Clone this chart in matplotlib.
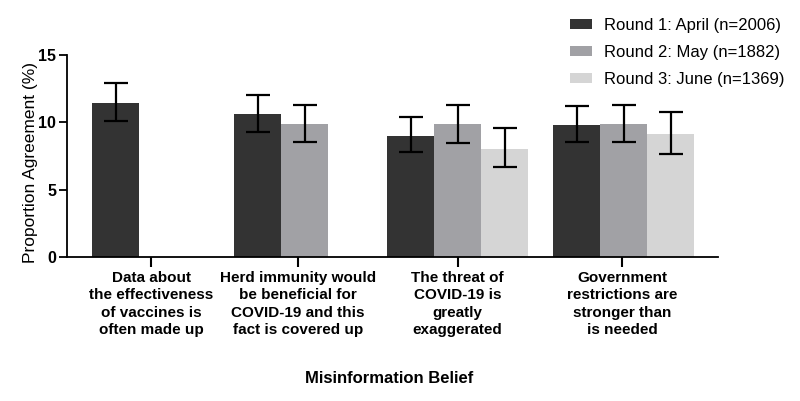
import matplotlib
matplotlib.use("Agg")
import matplotlib.pyplot as plt
from matplotlib.patches import Patch
import numpy as np

plt.rcParams['font.family'] = ['Liberation Sans', 'DejaVu Sans']

# ---- data ----
categories = [
    "Data about\nthe effectiveness\nof vaccines is\noften made up",
    "Herd immunity would\nbe beneficial for\nCOVID-19 and this\nfact is covered up",
    "The threat of\nCOVID-19 is\ngreatly\nexaggerated",
    "Government\nrestrictions are\nstronger than\nis needed",
]
series_names = ["Round 1: April (n=2006)", "Round 2: May (n=1882)", "Round 3: June (n=1369)"]
# values per series (None = no bar)
round1 = [11.45, 10.61, 9.02, 9.77]
round2 = [None, 9.84, 9.84, 9.87]
round3 = [None, None, 8.03, 9.10]
# confidence interval bounds
round1_lo = [10.09, 9.29, 7.81, 8.55]
round1_hi = [12.94, 12.04, 10.41, 11.20]
round2_lo = [None, 8.53, 8.50, 8.55]
round2_hi = [None, 11.28, 11.26, 11.30]
round3_lo = [None, None, 6.69, 7.66]
round3_hi = [None, None, 9.59, 10.76]
yticks = [0, 5, 10, 15]

# ---- layout ----
group_left = [0.0, 3.02, 6.28, 9.81]
tick_pos = [1.255, 4.383, 7.777, 11.277]
colors = ["#333333", "#a1a1a5", "#d5d5d5"]

fig = plt.figure(figsize=(8, 4.01), dpi=100)
ax = fig.add_axes([0.084, 0.359, 0.8137, 0.504])

series = [(round1, round1_lo, round1_hi), (round2, round2_lo, round2_hi), (round3, round3_lo, round3_hi)]
for si, (vals, lo, hi) in enumerate(series):
    for gi, v in enumerate(vals):
        if v is None:
            continue
        x = group_left[gi] + si + 0.5
        ax.bar(x, v, width=1.0, color=colors[si], edgecolor='none', zorder=2)
        ax.errorbar(x, v, yerr=[[v - lo[gi]], [hi[gi] - v]], fmt='none',
                    ecolor='black', elinewidth=1.6, capsize=8.5, capthick=1.6, zorder=3)

ax.set_xlim(-0.532, 13.32)
ax.set_ylim(0, 15)
ax.set_yticks(yticks)
ax.set_yticklabels([str(t) for t in yticks], fontsize=11.5, fontweight='bold')
ax.set_xticks(tick_pos)
ax.set_xticklabels(categories, fontsize=11, fontweight='bold', linespacing=1.32)
ax.tick_params(axis='x', direction='out', length=7, width=1.5, pad=3)
ax.tick_params(axis='y', direction='out', length=6, width=1.3, pad=2)
for s in ['top', 'right']:
    ax.spines[s].set_visible(False)
for s in ['left', 'bottom']:
    ax.spines[s].set_linewidth(1.3)

ax.set_ylabel("Proportion Agreement (%)", fontsize=12.5)
ax.yaxis.set_label_coords(-0.045, 0.47)
ax.set_xlabel("Misinformation Belief", fontsize=12, fontweight='bold')
ax.xaxis.set_label_coords(0.494, -0.565)

handles = [Patch(facecolor=c, edgecolor='none') for c in colors]
fig.legend(handles, series_names, loc='upper left', bbox_to_anchor=(0.713, 0.955),
           frameon=False, fontsize=12, handlelength=1.32, handleheight=0.5,
           handletextpad=0.72, labelspacing=0.71, borderpad=0, borderaxespad=0)

fig.savefig("out.png", dpi=100)
